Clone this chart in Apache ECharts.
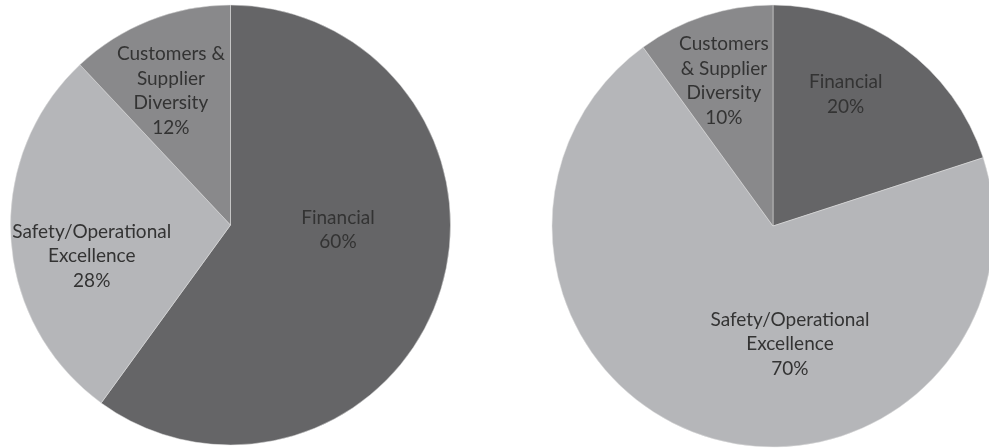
<!DOCTYPE html>
<html>
<head>
<meta charset="utf-8">
<script src="https://cdn.jsdelivr.net/npm/echarts@6/dist/echarts.min.js"></script>
<style>
html,body{margin:0;padding:0;background:#fff;}
#main{width:989px;height:448px;}
</style>
</head>
<body>
<div id="main"></div>
<script>
// Data
const categories = ['Financial', 'Safety/Operational Excellence', 'Customers & Supplier Diversity'];
const leftValues = [60, 28, 12];
const rightValues = [20, 70, 10];
const leftLabelNames = ['Financial', 'Safety/Operational\nExcellence', 'Customers &\nSupplier\nDiversity'];
const rightLabelNames = ['Financial', 'Safety/Operational\nExcellence', 'Customers\n& Supplier\nDiversity'];

// Styles
const sliceColors = ['#656567', '#b5b6b9', '#89898b'];
const leftOffsets = [[0, -30], [-26, 24], [-18, -29]];
const rightOffsets = [[6, -40], [52, 10], [-14, -37]];

function buildData(values, names, offsets) {
  return values.map((v, i) => ({
    value: v,
    name: categories[i],
    itemStyle: { color: sliceColors[i] },
    label: { formatter: names[i] + '\n{d}%', offset: offsets[i] }
  }));
}

const labelStyle = {
  show: true,
  position: 'inside',
  color: '#333333',
  fontFamily: 'Lato',
  fontSize: 19,
  lineHeight: 24.5,
  align: 'center'
};

const chart = echarts.init(document.getElementById('main'), null, { renderer: 'canvas' });
chart.setOption({
  animation: false,
  backgroundColor: '#ffffff',
  series: [
    {
      type: 'pie',
      center: [230.5, 225],
      radius: 220,
      startAngle: 90,
      clockwise: true,
      label: labelStyle,
      labelLine: { show: false },
      itemStyle: { borderColor: '#e0e0e0', borderWidth: 0.5 },
      emphasis: { disabled: true },
      data: buildData(leftValues, leftLabelNames, leftOffsets)
    },
    {
      type: 'pie',
      center: [773, 226],
      radius: 221,
      startAngle: 90,
      clockwise: true,
      label: labelStyle,
      labelLine: { show: false },
      itemStyle: { borderColor: '#e0e0e0', borderWidth: 0.5 },
      emphasis: { disabled: true },
      data: buildData(rightValues, rightLabelNames, rightOffsets)
    }
  ]
});
</script>
</body>
</html>
